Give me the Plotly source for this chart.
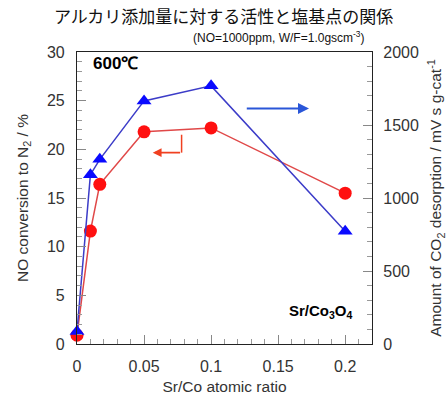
import plotly.graph_objects as go

# Sr/Co atomic ratio of the catalysts
ratio = [0.0, 0.01, 0.017, 0.05, 0.1, 0.2]
# NO conversion to N2 (%) at 600 °C, left axis
no_conversion = [0.9, 11.6, 16.4, 21.8, 22.2, 15.5]
# CO2 desorption amount (mV s g-cat^-1), right axis
co2_desorption = [85, 1160, 1265, 1665, 1768, 772]

x_ticks = [0, 0.05, 0.1, 0.15, 0.2]
x_ticklabels = ["0", "0.05", "0.1", "0.15", "0.2"]

FONT = "Liberation Sans, Arial, sans-serif"
TICK_COLOR = "#333333"

fig = go.Figure()

fig.add_trace(go.Scatter(
    x=ratio, y=no_conversion, mode="lines+markers",
    line=dict(color="#e04848", width=1.5),
    marker=dict(symbol="circle", size=13, color="#ff1010"),
    cliponaxis=False, showlegend=False,
))
fig.add_trace(go.Scatter(
    x=ratio, y=co2_desorption, mode="lines+markers", yaxis="y2",
    line=dict(color="#3c3cc8", width=1.5),
    marker=dict(symbol="triangle-up", size=13, color="#0a0aff"),
    cliponaxis=False, showlegend=False,
))

axis_common = dict(
    showline=True, linecolor="#222222", linewidth=1.2,
    ticks="inside", ticklen=9, tickcolor="#888888", tickwidth=1.2,
    showgrid=False, zeroline=False, automargin=False,
    tickfont=dict(family=FONT, size=16, color=TICK_COLOR),
)

fig.update_layout(
    width=447, height=399,
    margin=dict(l=77, r=75, t=52, b=55),
    paper_bgcolor="white", plot_bgcolor="white",
    font=dict(family=FONT, color="#222222"),
    xaxis=dict(
        range=[0, 0.22], tickvals=x_ticks, ticktext=x_ticklabels,
        mirror=True, ticklabelstandoff=8,
        minor=dict(dtick=0.01, ticks="inside", ticklen=5, tickcolor="#999999"),
        title=dict(text="Sr/Co atomic ratio", font=dict(family=FONT, size=15.5, color="#333333"), standoff=6),
        **axis_common,
    ),
    yaxis=dict(
        range=[0, 30], dtick=5, ticklabelstandoff=8,
        minor=dict(dtick=1, ticks="inside", ticklen=5, tickcolor="#999999"),
        title=dict(text="NO conversion to N<sub>2</sub> / %", font=dict(family=FONT, size=15.5, color="#333333"), standoff=14),
        **axis_common,
    ),
    yaxis2=dict(
        range=[0, 2000], dtick=500, overlaying="y", side="right",
        ticklabelstandoff=7,
        minor=dict(dtick=100, ticks="inside", ticklen=5, tickcolor="#999999"),
        title=dict(text="Amount of CO<sub>2</sub> desorption / mV s g-cat<sup>-1</sup>",
                   font=dict(family=FONT, size=15.5, color="#333333"), standoff=12),
        **axis_common,
    ),
)

# Titles above the plot
fig.add_annotation(text="アルカリ添加量に対する活性と塩基点の関係",
                   xref="paper", yref="paper", x=0.495, y=1.0, yshift=37,
                   showarrow=False, xanchor="center", yanchor="middle",
                   font=dict(family="Noto Sans CJK JP", size=17, color="#111111"))
fig.add_annotation(text="(NO=1000ppm, W/F=1.0gscm<sup>-3</sup>)",
                   xref="paper", yref="paper", x=0.685, y=1.0, yshift=15,
                   showarrow=False, xanchor="center", yanchor="middle",
                   font=dict(family=FONT, size=12, color="#111111"))

# In-plot labels
fig.add_annotation(text="<b>600℃</b>", xref="x", yref="y", x=0.0105, y=28.8,
                   showarrow=False, xanchor="left", yanchor="middle",
                   font=dict(family=FONT, size=17, color="#000000"))
fig.add_annotation(text="<b>Sr/Co<sub>3</sub>O<sub>4</sub></b>", xref="x", yref="y", x=0.2075, y=3.3,
                   showarrow=False, xanchor="right", yanchor="middle",
                   font=dict(family=FONT, size=15, color="#000000"))

# Arrows pointing to each curve's axis
fig.add_annotation(x=0.173, y=24.2, ax=0.1255, ay=24.2, xref="x", yref="y",
                   axref="x", ayref="y", text="", showarrow=True,
                   arrowhead=2, arrowsize=1.1, arrowwidth=2, arrowcolor="#2a56d8")
fig.add_shape(type="line", xref="x", yref="y", x0=0.078, y0=21.5, x1=0.078, y1=19.66,
              line=dict(color="#f04020", width=1.5))
fig.add_annotation(x=0.0565, y=19.66, ax=0.078, ay=19.66, xref="x", yref="y",
                   axref="x", ayref="y", text="", showarrow=True,
                   arrowhead=2, arrowsize=1.1, arrowwidth=1.6, arrowcolor="#f04020")

fig.write_html("out.html")
